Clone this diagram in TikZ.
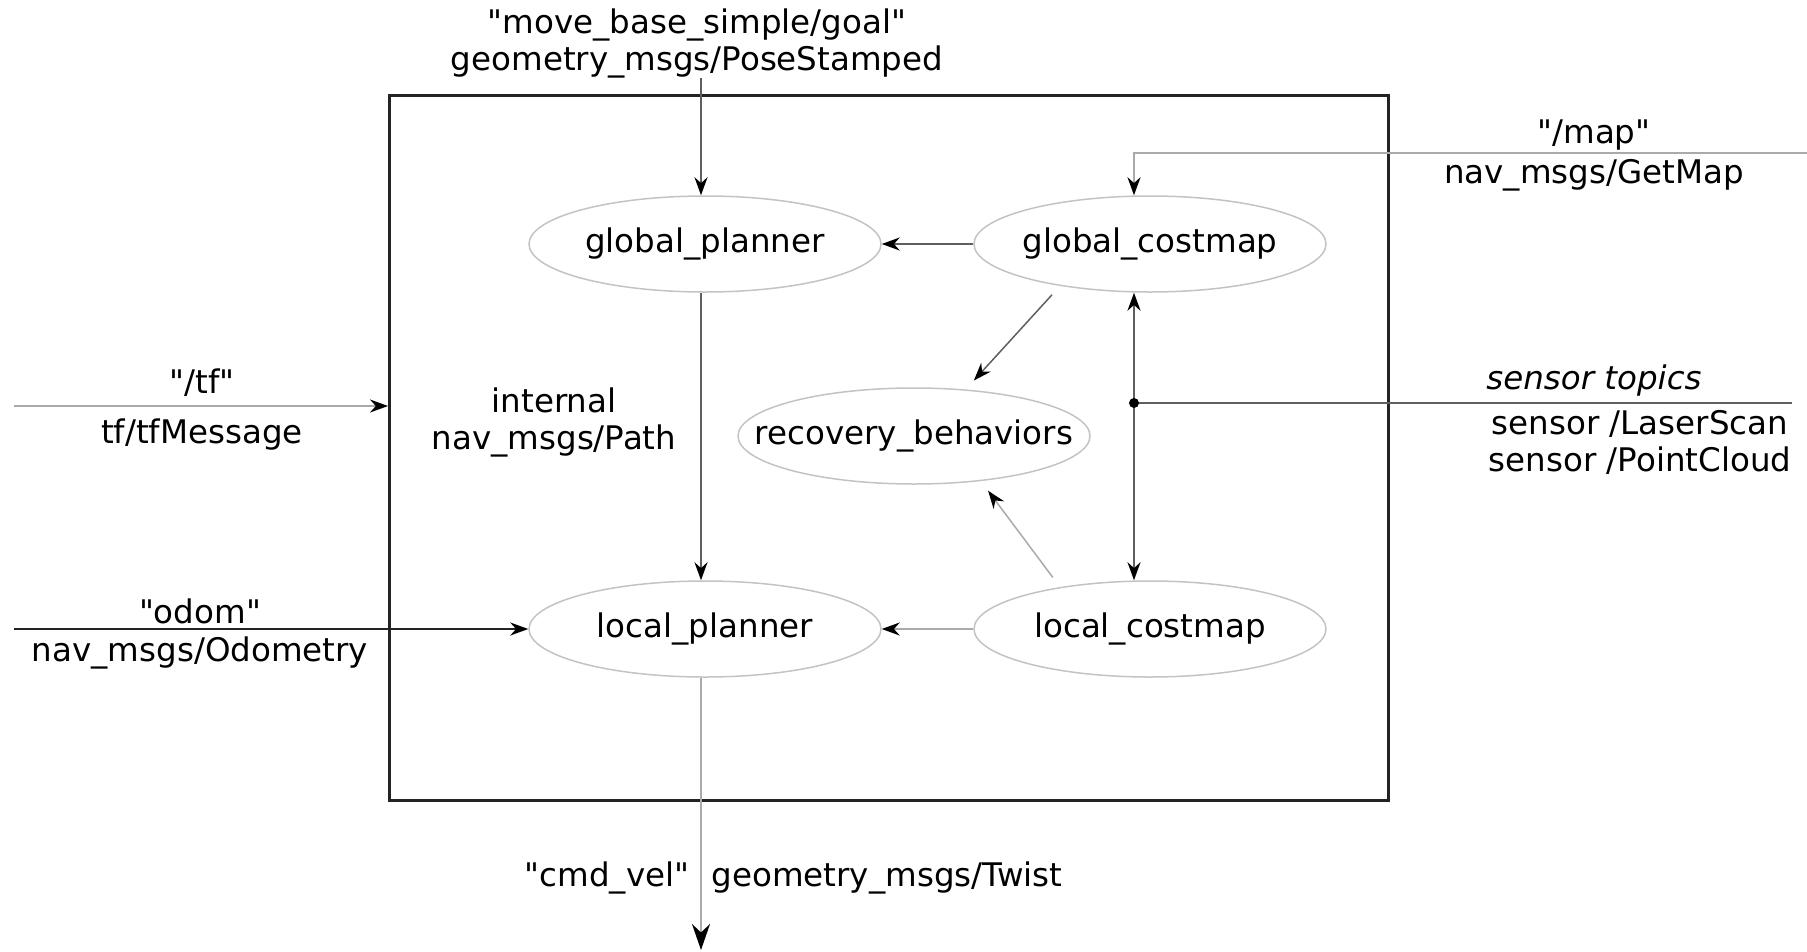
\documentclass[tikz,border=0pt]{standalone}
\usepackage{fontspec}
\setmainfont{DejaVu Sans}[Ligatures=TeXOff]
\usetikzlibrary{arrows.meta, positioning, shapes.geometric, calc}
\definecolor{framegray}{RGB}{35,35,35}
\definecolor{linegray}{RGB}{95,95,95}
\definecolor{palegray}{RGB}{170,170,170}
\definecolor{ovalgray}{RGB}{195,195,195}

\begin{document}
\begin{tikzpicture}[
    x=1pt, y=-1pt,
    every node/.style={font=\fontsize{32.5}{37}\selectfont},
    proc/.style={ellipse, draw=ovalgray, line width=1.5pt,
                 minimum width=352pt, minimum height=96pt,
                 inner xsep=-45pt, inner ysep=0pt},
    lbl/.style={align=center, inner sep=0pt},
    arrow/.style={-{Stealth[length=18pt, width=13pt, black]}, line width=2pt, linegray},
    softarrow/.style={arrow, palegray}
]
\useasboundingbox (0,0) rectangle (1807,951);

% move_base frame
\node[draw=framegray, line width=3pt, minimum width=999pt, minimum height=705pt,
      inner sep=0pt] (frame) at (889,448) {};

% Planners and costmaps
\node[proc] (gplanner) at (705,244) {global\_planner};
\node[proc] (gcostmap) at (1150,244) {global\_costmap};
\node[proc] (recovery) at (914,436) {recovery\_behaviors};
\node[proc] (lplanner) at (705,629) {local\_planner};
\node[proc] (lcostmap) at (1150,629) {local\_costmap};

% Topic labels
\node[lbl] (goallbl) at (697,43) {"move\_base\_simple/goal"\\geometry\_msgs/PoseStamped};
\node[lbl] (maplbl) at (1594,135) {"/map"};
\node[lbl] (maptype) at (1594,175) {nav\_msgs/GetMap};
\node[lbl] (tflbl) at (202,383) {"/tf"};
\node[lbl] (tftype) at (202,435) {tf/tfMessage};
\node[lbl, font=\fontsize{32.5}{37}\selectfont\itshape] (senslbl) at (1594,381) {sensor topics};
\node[lbl] (senstype) at (1640,442) {sensor /LaserScan\\sensor /PointCloud};
\node[lbl] (pathlbl) at (554,422) {internal\\nav\_msgs/Path};
\node[lbl] (odomlbl) at (200,611) {"odom"};
\node[lbl] (odomtype) at (200,653) {nav\_msgs/Odometry};
\node[lbl] (cmdlbl) at (607,878) {"cmd\_vel"};
\node[lbl] (cmdtype) at (887,878) {geometry\_msgs/Twist};

% Free ends
\coordinate (goalin) at (701,78);
\coordinate (mapin) at (1807,153);
\coordinate (mapdrop) at (1134,153);
\coordinate (tfin) at (14,406);
\coordinate (odomin) at (14,629);
\coordinate (sensin) at (1792,403);
\coordinate (sensdot) at (1134,403);
\coordinate (cmdout) at (701,950);

% Connections
\draw[arrow] (goalin) -- (goalin |- gplanner.north);
\draw[arrow, palegray] (mapin) -- (mapdrop) -- (mapdrop |- gcostmap.north);
\draw[softarrow] (tfin) -- (tfin -| frame.west);
\draw[arrow, framegray] (odomin) -- (lplanner.west);
\draw[arrow] (gcostmap.west) -- (gplanner.east);
\draw[softarrow] (lcostmap.west) -- (lplanner.east);
\draw[arrow] (gplanner.south -| goalin) -- (lplanner.north -| goalin);
\draw[arrow, shorten <=12pt, shorten >=12pt, line width=1.5pt] (gcostmap.205) -- (recovery.42);
\draw[arrow, shorten <=12pt, shorten >=12pt, line width=1.5pt, palegray] (lcostmap.155) -- (recovery.326);
\draw[line width=2pt, linegray] (sensin) -- (sensdot);
\draw[arrow] (sensdot) -- (sensdot |- gcostmap.south);
\draw[arrow] (sensdot) -- (sensdot |- lcostmap.north);
\fill[black] (sensdot) circle (5pt);
\draw[softarrow, -{Stealth[length=26pt, width=18pt, black]}] (lplanner.south -| cmdout) -- (cmdout);

\end{tikzpicture}
\end{document}
